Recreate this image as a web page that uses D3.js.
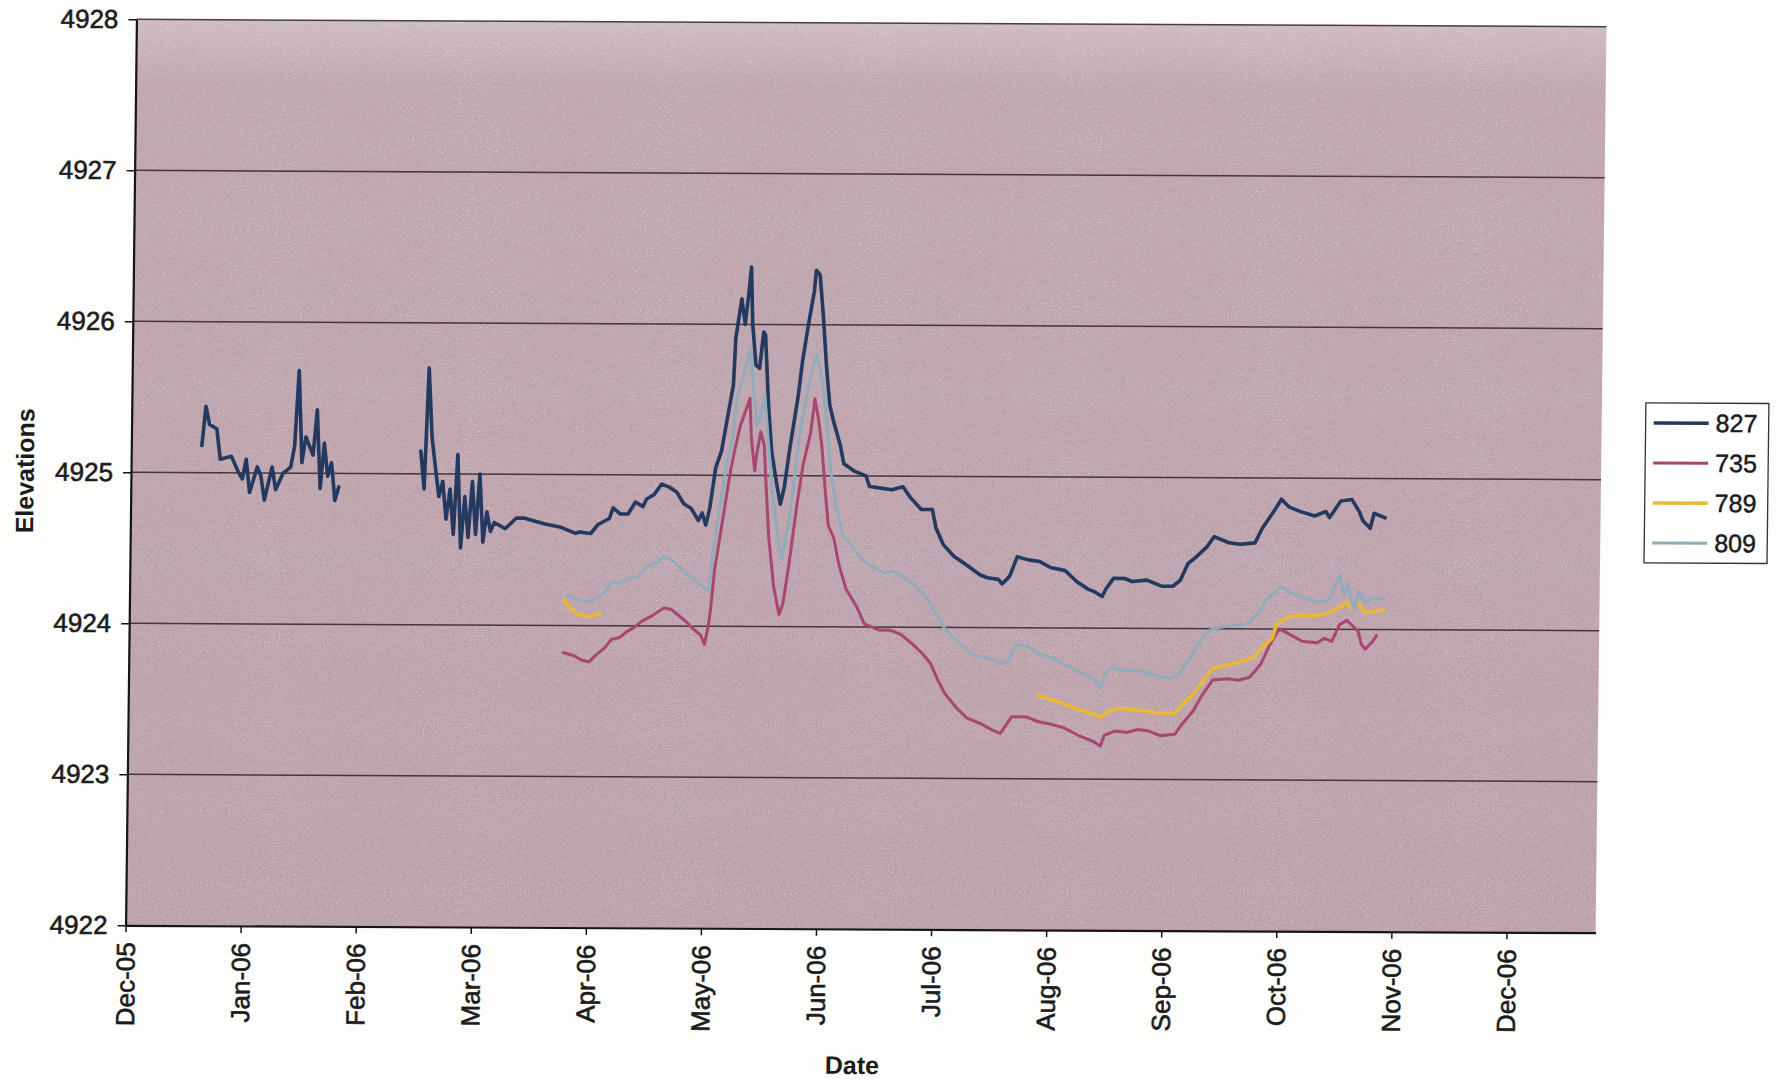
<!DOCTYPE html>
<html>
<head>
<meta charset="utf-8">
<script src="https://cdn.jsdelivr.net/npm/d3@7"></script>
<style>
  html, body { margin: 0; padding: 0; background: #fdfdfc; }
  svg { display: block; }
  text { font-family: "Liberation Sans", Arial, sans-serif; fill: #1c1c1c; }
</style>
</head>
<body>
<svg id="chart" width="1780" height="1083"></svg>
<script>
// ---------------- DATA ----------------
const seriesNames = ["827", "735", "789", "809"];
const yTickValues = [4922, 4923, 4924, 4925, 4926, 4927, 4928];
const xTickLabels = ["Dec-05","Jan-06","Feb-06","Mar-06","Apr-06","May-06","Jun-06","Jul-06","Aug-06","Sep-06","Oct-06","Nov-06","Dec-06"];
const xDomain = ["2005-12-01", "2007-01-01"];
const xTickStepDays = 31;
const yDomain = [4922, 4928];
const xTitle = "Date";
const yTitle = "Elevations";

const s827 = [
["2005-12-20",4925.18],["2005-12-21",4925.44],["2005-12-22",4925.32],["2005-12-24",4925.29],["2005-12-25",4925.09],["2005-12-28",4925.11],["2005-12-30",4925.00],["2005-12-31",4924.96],["2006-01-01",4925.09],["2006-01-02",4924.87],["2006-01-04",4925.04],["2006-01-05",4924.98],["2006-01-06",4924.82],["2006-01-08",4925.04],["2006-01-09",4924.89],["2006-01-11",4925.00],["2006-01-13",4925.04],["2006-01-14",4925.18],["2006-01-15",4925.68],["2006-01-16",4925.07],["2006-01-17",4925.24],["2006-01-19",4925.12],["2006-01-20",4925.42],["2006-01-21",4924.90],["2006-01-22",4925.20],["2006-01-23",4924.98],["2006-01-24",4925.07],["2006-01-25",4924.82],["2006-01-26",4924.91],
["2006-02-05",null],
["2006-02-17",4925.15],["2006-02-18",4924.90],["2006-02-19",4925.70],["2006-02-20",4925.24],["2006-02-21",4925.04],["2006-02-22",4924.85],["2006-02-23",4924.95],["2006-02-24",4924.70],["2006-02-25",4924.90],["2006-02-26",4924.60],["2006-02-27",4925.13],["2006-02-28",4924.51],["2006-03-01",4924.85],["2006-03-02",4924.58],["2006-03-03",4924.95],["2006-03-04",4924.60],["2006-03-05",4925.00],["2006-03-06",4924.55],["2006-03-07",4924.75],["2006-03-08",4924.62],["2006-03-09",4924.68],["2006-03-12",4924.64],["2006-03-15",4924.71],["2006-03-17",4924.71],["2006-03-20",4924.69],["2006-03-23",4924.67],["2006-03-27",4924.65],["2006-03-31",4924.61],["2006-04-01",4924.62],["2006-04-04",4924.61],["2006-04-06",4924.67],["2006-04-09",4924.71],["2006-04-10",4924.78],["2006-04-12",4924.74],["2006-04-14",4924.74],["2006-04-16",4924.82],["2006-04-18",4924.79],["2006-04-19",4924.84],["2006-04-21",4924.87],["2006-04-23",4924.94],["2006-04-25",4924.92],["2006-04-27",4924.89],["2006-04-29",4924.81],["2006-05-01",4924.78],["2006-05-03",4924.70],["2006-05-04",4924.75],["2006-05-05",4924.67],["2006-05-06",4924.78],["2006-05-07T12",4925.05],["2006-05-09",4925.16],["2006-05-10T12",4925.38],["2006-05-12",4925.60],["2006-05-12T12",4925.91],["2006-05-14",4926.17],["2006-05-15",4926.00],["2006-05-16",4926.24],["2006-05-16T12",4926.38],["2006-05-17",4926.00],["2006-05-18",4925.73],["2006-05-19",4925.71],["2006-05-20",4925.95],["2006-05-20T12",4925.93],["2006-05-21T12",4925.47],["2006-05-22T12",4925.16],["2006-05-24",4924.94],["2006-05-25",4924.81],["2006-05-26",4924.92],["2006-05-27T12",4925.20],["2006-05-29T12",4925.53],["2006-05-30T12",4925.75],["2006-06-01",4926.00],["2006-06-02T12",4926.22],["2006-06-03",4926.36],["2006-06-04",4926.33],["2006-06-05",4926.06],["2006-06-06",4925.73],["2006-06-07",4925.47],["2006-06-08",4925.37],["2006-06-10",4925.20],["2006-06-11",4925.08],["2006-06-14",4925.03],["2006-06-17",4925.00],["2006-06-18",4924.93],["2006-06-21",4924.92],["2006-06-24",4924.91],["2006-06-27",4924.93],["2006-06-29",4924.86],["2006-07-02",4924.78],["2006-07-05",4924.78],["2006-07-06",4924.66],["2006-07-08",4924.55],["2006-07-11",4924.47],["2006-07-14",4924.42],["2006-07-18",4924.35],["2006-07-20",4924.33],["2006-07-23",4924.32],["2006-07-24",4924.29],["2006-07-26",4924.34],["2006-07-28",4924.47],["2006-07-31",4924.45],["2006-08-03",4924.44],["2006-08-06",4924.40],["2006-08-10",4924.38],["2006-08-13",4924.31],["2006-08-16",4924.26],["2006-08-18",4924.24],["2006-08-20",4924.21],["2006-08-21",4924.26],["2006-08-23",4924.33],["2006-08-26",4924.33],["2006-08-28",4924.31],["2006-09-01",4924.32],["2006-09-05",4924.28],["2006-09-08",4924.28],["2006-09-10",4924.32],["2006-09-12",4924.43],["2006-09-14",4924.47],["2006-09-17",4924.54],["2006-09-19",4924.61],["2006-09-23",4924.57],["2006-09-26",4924.56],["2006-09-30",4924.57],["2006-10-02",4924.67],["2006-10-05",4924.78],["2006-10-07",4924.86],["2006-10-09",4924.81],["2006-10-12",4924.78],["2006-10-16",4924.75],["2006-10-19",4924.78],["2006-10-20",4924.74],["2006-10-23",4924.85],["2006-10-26",4924.86],["2006-10-28",4924.78],["2006-10-29",4924.72],["2006-10-31",4924.67],["2006-11-01",4924.77],["2006-11-04",4924.74]
];

const s735 = [
["2006-03-28",4923.82],["2006-03-31",4923.80],["2006-04-02",4923.77],["2006-04-04",4923.76],["2006-04-06",4923.81],["2006-04-08",4923.85],["2006-04-10",4923.91],["2006-04-12",4923.92],["2006-04-14",4923.96],["2006-04-16",4923.99],["2006-04-18",4924.03],["2006-04-21",4924.07],["2006-04-24",4924.12],["2006-04-26",4924.11],["2006-04-28",4924.07],["2006-04-30",4924.03],["2006-05-02",4923.98],["2006-05-04",4923.94],["2006-05-05",4923.88],["2006-05-06",4924.00],["2006-05-06T12",4924.10],["2006-05-07T12",4924.37],["2006-05-09T12",4924.70],["2006-05-11T12",4925.03],["2006-05-12T12",4925.16],["2006-05-14",4925.33],["2006-05-15",4925.40],["2006-05-16T12",4925.51],["2006-05-17",4925.25],["2006-05-18",4925.03],["2006-05-18T12",4925.14],["2006-05-19T12",4925.29],["2006-05-20T12",4925.20],["2006-05-21",4924.98],["2006-05-22",4924.59],["2006-05-23T12",4924.26],["2006-05-25",4924.08],["2006-05-26",4924.15],["2006-05-27T12",4924.41],["2006-05-29T12",4924.81],["2006-05-31",4925.07],["2006-06-02",4925.29],["2006-06-03",4925.51],["2006-06-04",4925.38],["2006-06-05",4925.20],["2006-06-06",4924.92],["2006-06-07",4924.67],["2006-06-08T12",4924.59],["2006-06-10",4924.41],["2006-06-12",4924.25],["2006-06-15",4924.13],["2006-06-17",4924.02],["2006-06-21",4923.98],["2006-06-24",4923.98],["2006-06-27",4923.95],["2006-06-30",4923.89],["2006-07-03",4923.82],["2006-07-05",4923.76],["2006-07-07",4923.65],["2006-07-09",4923.56],["2006-07-12",4923.47],["2006-07-15",4923.40],["2006-07-19",4923.36],["2006-07-22",4923.32],["2006-07-24",4923.30],["2006-07-27",4923.41],["2006-07-31",4923.41],["2006-08-03",4923.38],["2006-08-07",4923.36],["2006-08-10",4923.34],["2006-08-14",4923.29],["2006-08-18",4923.25],["2006-08-20",4923.22],["2006-08-21",4923.29],["2006-08-24",4923.32],["2006-08-27",4923.31],["2006-08-30",4923.33],["2006-09-02",4923.32],["2006-09-05",4923.29],["2006-09-09",4923.30],["2006-09-11",4923.37],["2006-09-14",4923.46],["2006-09-16",4923.55],["2006-09-19",4923.66],["2006-09-23",4923.67],["2006-09-26",4923.66],["2006-09-29",4923.68],["2006-10-02",4923.77],["2006-10-04",4923.88],["2006-10-06",4923.97],["2006-10-07",4924.00],["2006-10-10",4923.96],["2006-10-13",4923.92],["2006-10-17",4923.91],["2006-10-19",4923.94],["2006-10-21",4923.92],["2006-10-23",4924.03],["2006-10-25",4924.06],["2006-10-28",4923.99],["2006-10-29",4923.90],["2006-10-30",4923.87],["2006-11-01",4923.92],["2006-11-02",4923.96]
];

const s789 = [
["2006-03-28",4924.17],["2006-03-30",4924.11],["2006-04-01",4924.07],["2006-04-04",4924.06],["2006-04-07",4924.08],
["2006-05-20",null],
["2006-08-03",4923.55],["2006-08-06",4923.53],["2006-08-10",4923.50],["2006-08-13",4923.47],["2006-08-17",4923.44],["2006-08-20",4923.41],["2006-08-22",4923.45],["2006-08-25",4923.47],["2006-08-29",4923.46],["2006-09-02",4923.45],["2006-09-05",4923.44],["2006-09-09",4923.44],["2006-09-11",4923.50],["2006-09-14",4923.57],["2006-09-16",4923.64],["2006-09-19",4923.74],["2006-09-23",4923.76],["2006-09-26",4923.78],["2006-09-30",4923.81],["2006-10-02",4923.87],["2006-10-05",4923.94],["2006-10-06",4924.03],["2006-10-09",4924.08],["2006-10-12",4924.09],["2006-10-16",4924.09],["2006-10-19",4924.10],["2006-10-22",4924.13],["2006-10-25",4924.18],["2006-10-26",4924.14],["2006-10-28",4924.17],["2006-10-30",4924.11],["2006-11-01",4924.12],["2006-11-04",4924.13]
];

const s809 = [
["2006-03-29",4924.20],["2006-04-01",4924.17],["2006-04-03",4924.16],["2006-04-05",4924.17],["2006-04-08",4924.22],["2006-04-10",4924.29],["2006-04-12",4924.28],["2006-04-14",4924.31],["2006-04-17",4924.33],["2006-04-19",4924.39],["2006-04-22",4924.42],["2006-04-24",4924.46],["2006-04-27",4924.42],["2006-04-29",4924.37],["2006-05-02",4924.31],["2006-05-04",4924.27],["2006-05-06",4924.24],["2006-05-07",4924.48],["2006-05-08T12",4924.76],["2006-05-10T12",4925.07],["2006-05-12",4925.25],["2006-05-13",4925.51],["2006-05-14T12",4925.64],["2006-05-16",4925.78],["2006-05-16T12",4925.84],["2006-05-17T12",4925.56],["2006-05-18T12",4925.33],["2006-05-19T12",4925.40],["2006-05-20T12",4925.53],["2006-05-21T12",4925.25],["2006-05-23",4924.85],["2006-05-24T12",4924.59],["2006-05-25T12",4924.45],["2006-05-27",4924.63],["2006-05-28T12",4924.94],["2006-05-30",4925.27],["2006-06-01",4925.56],["2006-06-02T12",4925.73],["2006-06-03T12",4925.80],["2006-06-05",4925.62],["2006-06-06T12",4925.31],["2006-06-07T12",4925.03],["2006-06-09",4924.81],["2006-06-11",4924.60],["2006-06-13",4924.55],["2006-06-16",4924.45],["2006-06-19",4924.40],["2006-06-22",4924.36],["2006-06-25",4924.37],["2006-06-28",4924.32],["2006-06-30",4924.29],["2006-07-03",4924.22],["2006-07-06",4924.10],["2006-07-09",4923.98],["2006-07-13",4923.89],["2006-07-16",4923.82],["2006-07-20",4923.80],["2006-07-22",4923.78],["2006-07-24",4923.76],["2006-07-26",4923.78],["2006-07-28",4923.89],["2006-07-31",4923.88],["2006-08-03",4923.83],["2006-08-07",4923.80],["2006-08-10",4923.76],["2006-08-14",4923.71],["2006-08-18",4923.66],["2006-08-20",4923.60],["2006-08-21",4923.70],["2006-08-23",4923.74],["2006-08-26",4923.72],["2006-08-29",4923.72],["2006-09-01",4923.71],["2006-09-05",4923.68],["2006-09-08",4923.67],["2006-09-10",4923.70],["2006-09-13",4923.81],["2006-09-15",4923.90],["2006-09-18",4923.99],["2006-09-21",4924.01],["2006-09-24",4924.02],["2006-09-28",4924.03],["2006-10-01",4924.10],["2006-10-03",4924.19],["2006-10-06",4924.25],["2006-10-07",4924.28],["2006-10-10",4924.24],["2006-10-13",4924.21],["2006-10-17",4924.18],["2006-10-20",4924.19],["2006-10-23",4924.36],["2006-10-24",4924.23],["2006-10-25",4924.30],["2006-10-27",4924.12],["2006-10-28",4924.25],["2006-10-30",4924.17],["2006-11-01",4924.21],["2006-11-04",4924.20]
];

const seriesData = [s827, s735, s789, s809];

// ---------------- STYLE / LAYOUT ----------------
const style = {
  colors: ["#233960", "#a9466f", "#e8b935", "#90acbb"],
  widths: [3.6, 3.0, 3.6, 3.0],
  plotFill: "#bda2ac",
  grid: "#2f2328",
  axis: "#151515",
  text: "#1c1c1c"
};
const plot = { left: 131, top: 23, width: 1470, height: 906 };
const shear = { a: -0.012, b: 0.005, cx: 866, cy: 476 };

const pDay = d3.utcParse("%Y-%m-%d");
const pHour = d3.utcParse("%Y-%m-%dT%H");
const parseDate = s => (s.length > 10 ? pHour(s) : pDay(s));

const svg = d3.select("#chart");
svg.append("rect").attr("width", 1780).attr("height", 1083).attr("fill", "#fdfdfc");

const root = svg.append("g")
  .attr("transform", `matrix(1,${shear.b},${shear.a},1,${-shear.a * shear.cy},${-shear.b * shear.cx})`);

const x = d3.scaleUtc()
  .domain(xDomain.map(pDay))
  .range([plot.left, plot.left + plot.width]);
const y = d3.scaleLinear()
  .domain(yDomain)
  .range([plot.top + plot.height, plot.top]);

// plot area background with scan-like grain
const defs = svg.append("defs");
const grain = defs.append("filter").attr("id", "grain")
  .attr("filterUnits", "userSpaceOnUse")
  .attr("x", plot.left).attr("y", plot.top).attr("width", plot.width).attr("height", plot.height);
grain.append("feTurbulence").attr("type", "fractalNoise").attr("baseFrequency", 0.75).attr("numOctaves", 2).attr("seed", 7).attr("result", "n");
grain.append("feColorMatrix").attr("in", "n").attr("type", "matrix")
  .attr("values", "0 0 0 0 1  0 0 0 0 1  0 0 0 0 1  3 0 0 0 -1.55");

const topGlow = defs.append("linearGradient").attr("id", "topGlow").attr("x1", 0).attr("y1", 0).attr("x2", 0).attr("y2", 1);
topGlow.append("stop").attr("offset", "0").attr("stop-color", "#ffffff").attr("stop-opacity", 0.28);
topGlow.append("stop").attr("offset", "0.07").attr("stop-color", "#ffffff").attr("stop-opacity", 0.05);
topGlow.append("stop").attr("offset", "1").attr("stop-color", "#ffffff").attr("stop-opacity", 0);

root.append("rect")
  .attr("x", plot.left).attr("y", plot.top)
  .attr("width", plot.width).attr("height", plot.height)
  .attr("fill", style.plotFill);
root.append("rect")
  .attr("x", plot.left).attr("y", plot.top)
  .attr("width", plot.width).attr("height", plot.height)
  .attr("fill", "url(#topGlow)");
root.append("rect")
  .attr("x", plot.left).attr("y", plot.top)
  .attr("width", plot.width).attr("height", plot.height)
  .attr("fill", "#ffffff")
  .attr("filter", "url(#grain)").attr("opacity", 0.45);

// gridlines
root.append("g").selectAll("line")
  .data(yTickValues.filter(v => v !== yDomain[0]))
  .join("line")
  .attr("x1", plot.left).attr("x2", plot.left + plot.width)
  .attr("y1", d => y(d)).attr("y2", d => y(d))
  .attr("stroke", style.grid).attr("stroke-width", 1.5).attr("opacity", 0.85);

// series lines
const line = d3.line()
  .defined(d => d[1] !== null)
  .x(d => x(parseDate(d[0])))
  .y(d => y(d[1]));

const linesG = root.append("g");
seriesData.forEach((data, i) => {
  linesG.append("path")
    .datum(data)
    .attr("d", line)
    .attr("fill", "none")
    .attr("stroke", style.colors[i])
    .attr("stroke-width", style.widths[i])
    .attr("stroke-linejoin", "round")
    .attr("stroke-linecap", "round");
});

// axes
const yAxis = d3.axisLeft(y).tickValues(yTickValues).tickSize(8).tickSizeOuter(0).tickPadding(10).tickFormat(d => String(d));
const yG = root.append("g").attr("transform", `translate(${plot.left},0)`).call(yAxis);
yG.select(".domain").attr("stroke", style.axis).attr("stroke-width", 2.2);
yG.selectAll(".tick line").attr("stroke", style.axis).attr("stroke-width", 1.5);
yG.selectAll("text")
  .attr("font-size", 26).attr("fill", style.text).attr("font-family", "Liberation Sans, Arial, sans-serif")
  .attr("stroke", style.text).attr("stroke-width", 0.6);

const start = pDay(xDomain[0]);
const xTickDates = xTickLabels.map((_, i) => d3.utcDay.offset(start, xTickStepDays * i));
const xAxis = d3.axisBottom(x).tickValues(xTickDates).tickSize(7).tickSizeOuter(0).tickFormat((d, i) => xTickLabels[i]);
const xG = root.append("g").attr("transform", `translate(0,${plot.top + plot.height})`).call(xAxis);
xG.select(".domain").attr("stroke", style.axis).attr("stroke-width", 2.2);
xG.selectAll(".tick line").attr("stroke", style.axis).attr("stroke-width", 1.5);
xG.selectAll("text")
  .attr("font-size", 26).attr("fill", style.text).attr("font-family", "Liberation Sans, Arial, sans-serif")
  .attr("stroke", style.text).attr("stroke-width", 0.6)
  .attr("transform", "rotate(-90)")
  .attr("text-anchor", "end")
  .attr("x", -17).attr("y", 0).attr("dy", "0.35em");

// axis titles
root.append("text")
  .attr("x", 859).attr("y", 1074)
  .attr("text-anchor", "middle")
  .attr("font-size", 25).attr("font-weight", "bold")
  .text(xTitle);
root.append("text")
  .attr("transform", "translate(25,475) rotate(-90)")
  .attr("text-anchor", "middle").attr("dy", "0.35em")
  .attr("font-size", 25).attr("font-weight", "bold")
  .text(yTitle);

// legend
const legend = root.append("g");
legend.append("rect")
  .attr("x", 1645).attr("y", 399).attr("width", 123).attr("height", 160)
  .attr("fill", "#ffffff").attr("stroke", "#333").attr("stroke-width", 1.3);
seriesNames.forEach((name, i) => {
  const ly = 419 + i * 40;
  legend.append("line")
    .attr("x1", 1653).attr("x2", 1708).attr("y1", ly).attr("y2", ly)
    .attr("stroke", style.colors[i]).attr("stroke-width", style.widths[i]);
  legend.append("text")
    .attr("x", 1715).attr("y", ly).attr("dy", "0.35em")
    .attr("font-size", 25)
    .attr("stroke", style.text).attr("stroke-width", 0.5)
    .text(name);
});
</script>
</body>
</html>
